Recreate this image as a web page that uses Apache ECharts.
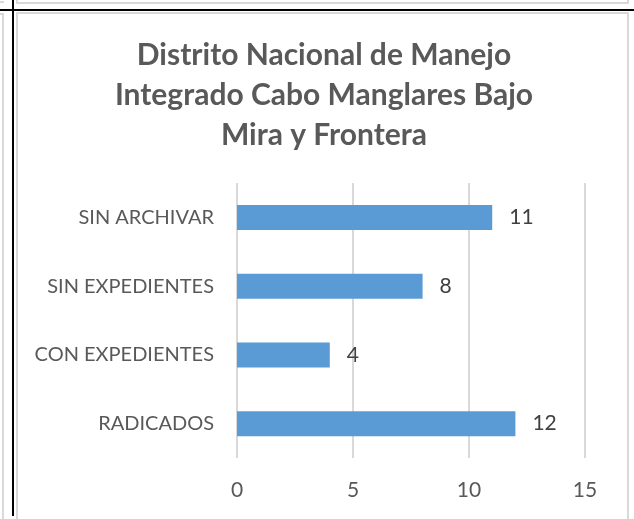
<!DOCTYPE html>
<html>
<head>
<meta charset="utf-8">
<style>
  html, body { margin: 0; padding: 0; background: #ffffff; }
  #chart { width: 634px; height: 519px; }
</style>
<script src="https://cdn.jsdelivr.net/npm/echarts@6/dist/echarts.min.js"></script>
</head>
<body>
<div id="chart"></div>
<script>
// Categories listed bottom-to-top as the category axis stacks them
const categories = ['RADICADOS', 'CON EXPEDIENTES', 'SIN EXPEDIENTES', 'SIN ARCHIVAR'];
const values = [12, 4, 8, 11];
const xTicks = [0, 5, 10, 15];
const titleLines = ['Distrito Nacional de Manejo', 'Integrado Cabo Manglares Bajo', 'Mira y Frontera'];

const chart = echarts.init(document.getElementById('chart'), null, { renderer: 'canvas' });
const FONT = 'Lato, "Open Sans", sans-serif';

chart.setOption({
  backgroundColor: '#ffffff',
  animation: false,
  title: {
    text: titleLines.join('\n'),
    left: 319,
    top: 30,
    textAlign: 'center',
    textStyle: {
      fontFamily: FONT,
      fontWeight: 'bold',
      fontSize: 30,
      lineHeight: 40,
      color: '#595959'
    }
  },
  grid: { left: 237, right: 49, top: 183, bottom: 61, containLabel: false },
  xAxis: {
    type: 'value',
    min: xTicks[0],
    max: xTicks[xTicks.length - 1],
    interval: 5,
    axisLine: { show: false },
    axisTick: { show: false },
    splitLine: { lineStyle: { color: '#d9d9d9', width: 2 } },
    axisLabel: { margin: 22, fontFamily: FONT, fontSize: 21, color: '#595959' }
  },
  yAxis: {
    type: 'category',
    data: categories,
    axisLine: { show: false },
    axisTick: { show: false },
    axisLabel: { margin: 23, fontFamily: FONT, fontSize: 20, color: '#595959' }
  },
  series: [{
    type: 'bar',
    data: values,
    barWidth: 25,
    itemStyle: { color: '#5b9bd5' },
    label: {
      show: true,
      position: 'right',
      distance: 17,
      fontFamily: FONT,
      fontSize: 21,
      color: '#404040'
    }
  }],
  graphic: [
    // neighbouring chart frames in light grey
    { type: 'rect', shape: { x: 17, y: -20, width: 611, height: 23 }, style: { fill: 'none', stroke: '#d9d9d9', lineWidth: 2 } },
    { type: 'rect', shape: { x: 17, y: 13, width: 611, height: 530 }, style: { fill: 'none', stroke: '#d9d9d9', lineWidth: 2 } },
    { type: 'rect', shape: { x: -20, y: 14, width: 23, height: 530 }, style: { fill: 'none', stroke: '#d9d9d9', lineWidth: 2 } },
    { type: 'line', shape: { x1: 0, y1: 2, x2: 4, y2: 2 }, style: { stroke: '#d9d9d9', lineWidth: 2 } },
    // black cell borders
    { type: 'line', shape: { x1: 13, y1: 0, x2: 13, y2: 516 }, style: { stroke: '#000000', lineWidth: 2 } },
    { type: 'line', shape: { x1: 0, y1: 10, x2: 634, y2: 10 }, style: { stroke: '#000000', lineWidth: 2 } }
  ]
});
</script>
</body>
</html>
